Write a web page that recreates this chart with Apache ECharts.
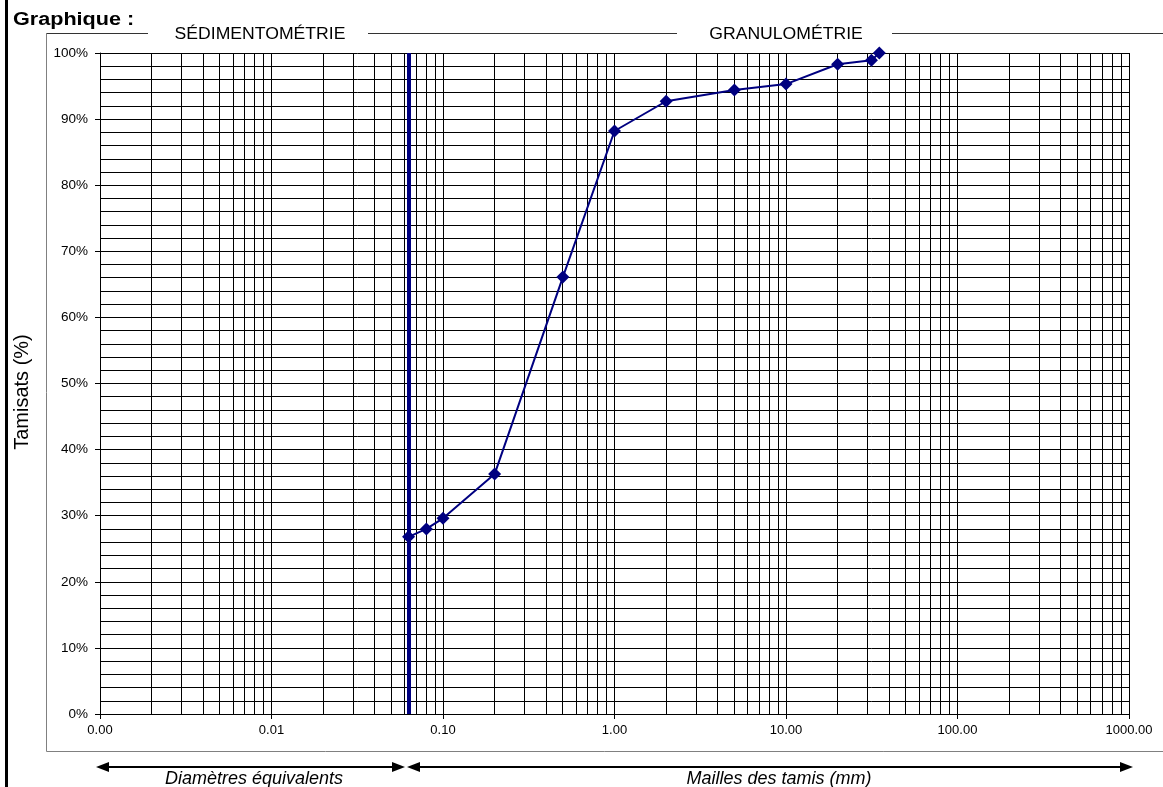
<!DOCTYPE html>
<html>
<head>
<meta charset="utf-8">
<script src="https://cdn.jsdelivr.net/npm/echarts@6/dist/echarts.min.js"></script>
<style>
  html, body { margin: 0; padding: 0; background: #fff; }
  #chart { width: 1163px; height: 787px; }
</style>
</head>
<body>
<div id="chart"></div>
<script>
// sieve sizes (mm) and percent passing
var sieveSizes = [0.063, 0.08, 0.1, 0.2, 0.5, 1, 2, 5, 10, 20, 31.5, 35];
var passing = [26.8, 28.0, 29.6, 36.3, 66.1, 88.2, 92.7, 94.4, 95.3, 98.3, 98.9, 100];
var separationSize = 0.063;
var decades = [0.001, 0.01, 0.1, 1, 10, 100];
var xMin = 0.001, xMax = 1000;
var yMin = 0, yMax = 100;

var FONT = "'Liberation Sans', Arial, sans-serif";
var NAVY = "#000080";

// vertical log grid lines 1..9 in every decade
var vLines = [];
decades.forEach(function (d) {
  for (var m = 1; m <= 9; m++) vLines.push(+(d * m).toPrecision(6));
});
vLines.push(xMax);

var chartDom = document.getElementById("chart");
var myChart = echarts.init(chartDom);

function arrowHead(tipX, y, dir) {
  // dir = -1 points left, 1 points right
  return {
    type: "polygon",
    shape: { points: [[tipX, y], [tipX - dir * 13, y - 5], [tipX - dir * 13, y + 5]] },
    style: { fill: "#000" }
  };
}

// draws a full-height vertical line at the data x value
function vLineRenderer(color, width) {
  return function (params, api) {
    var v = api.value(0);
    var top = api.coord([v, yMax]);
    var bottom = api.coord([v, yMin]);
    var x = width % 2 ? Math.round(top[0] - 0.5) + 0.5 : Math.round(top[0]);
    return {
      type: "line",
      shape: { x1: x, y1: top[1], x2: x, y2: bottom[1] },
      style: { stroke: color, lineWidth: width }
    };
  };
}

var arrowY = 767;

var option = {
  animation: false,
  textStyle: { fontFamily: FONT },
  grid: { left: 100, right: 34, top: 53, bottom: 73 },
  xAxis: {
    type: "log",
    logBase: 10,
    min: xMin,
    max: xMax,
    splitNumber: 6,
    axisLine: { show: true, lineStyle: { color: "#000", width: 1 } },
    axisTick: { show: true, length: 5, lineStyle: { color: "#000" } },
    axisLabel: {
      color: "#000",
      fontSize: 13,
      fontFamily: FONT,
      margin: 10,
      formatter: function (v) { return Number(v).toFixed(2); }
    },
    splitLine: { show: false }
  },
  yAxis: {
    type: "value",
    min: yMin,
    max: yMax,
    interval: 10,
    axisLine: { show: true, lineStyle: { color: "#000", width: 1 } },
    axisTick: { show: true, length: 5, lineStyle: { color: "#000" } },
    axisLabel: {
      color: "#000",
      fontSize: 13.5,
      fontFamily: FONT,
      margin: 12,
      formatter: "{value}%"
    },
    splitLine: { show: true, lineStyle: { color: "#000", width: 1 } },
    minorTick: { show: false, splitNumber: 5 },
    minorSplitLine: { show: true, lineStyle: { color: "#000", width: 1 } }
  },
  graphic: [
    { type: "rect", shape: { x: 5, y: 0, width: 3, height: 787 }, style: { fill: "#000" } },
    {
      type: "text", x: 13, y: 20, scaleX: 1.2,
      style: { text: "Graphique :", font: "bold 18px " + FONT, fill: "#000", textVerticalAlign: "middle" }
    },
    {
      type: "text", x: 22, y: 392, rotation: Math.PI / 2, scaleX: 1.0,
      style: { text: "Tamisats (%)", font: "20px " + FONT, fill: "#000", textAlign: "center", textVerticalAlign: "middle" }
    },
    // frame
    { type: "line", shape: { x1: 46.5, y1: 33.5, x2: 46.5, y2: 751.5 }, style: { stroke: "#808080", lineWidth: 1 } },
    { type: "line", shape: { x1: 46.5, y1: 751.5, x2: 1163, y2: 751.5 }, style: { stroke: "#808080", lineWidth: 1 } },
    { type: "line", shape: { x1: 46.5, y1: 33.5, x2: 148, y2: 33.5 }, style: { stroke: "#333", lineWidth: 1 } },
    { type: "line", shape: { x1: 368, y1: 33.5, x2: 677, y2: 33.5 }, style: { stroke: "#333", lineWidth: 1 } },
    { type: "line", shape: { x1: 892, y1: 33.5, x2: 1163, y2: 33.5 }, style: { stroke: "#333", lineWidth: 1 } },
    {
      type: "text", x: 260, y: 35, scaleX: 1.1,
      style: { text: "SÉDIMENTOMÉTRIE", font: "16px " + FONT, fill: "#000", textAlign: "center", textVerticalAlign: "middle" }
    },
    {
      type: "text", x: 786, y: 35, scaleX: 1.1,
      style: { text: "GRANULOMÉTRIE", font: "16px " + FONT, fill: "#000", textAlign: "center", textVerticalAlign: "middle" }
    },
    // arrows below the axis
    { type: "line", shape: { x1: 100, y1: arrowY, x2: 400, y2: arrowY }, style: { stroke: "#000", lineWidth: 2 } },
    arrowHead(96, arrowY, -1),
    arrowHead(405, arrowY, 1),
    { type: "line", shape: { x1: 412, y1: arrowY, x2: 1128, y2: arrowY }, style: { stroke: "#000", lineWidth: 2 } },
    arrowHead(407, arrowY, -1),
    arrowHead(1133, arrowY, 1),
    {
      type: "text", x: 254, y: 779,
      style: { text: "Diamètres équivalents", font: "italic 18px " + FONT, fill: "#000", textAlign: "center", textVerticalAlign: "middle" }
    },
    {
      type: "text", x: 779, y: 779,
      style: { text: "Mailles des tamis (mm)", font: "italic 18px " + FONT, fill: "#000", textAlign: "center", textVerticalAlign: "middle" }
    }
  ],
  series: [
    {
      name: "grid",
      type: "custom",
      silent: true,
      z: 1,
      renderItem: vLineRenderer("#000", 1),
      encode: { x: 0, y: 1 },
      data: vLines.map(function (v) { return [v, yMin]; })
    },
    {
      name: "separation",
      type: "custom",
      silent: true,
      z: 2,
      renderItem: vLineRenderer(NAVY, 4),
      encode: { x: 0, y: 1 },
      data: [[separationSize, yMin]]
    },
    {
      name: "Tamisats",
      type: "line",
      z: 3,
      symbol: "diamond",
      symbolSize: 13,
      lineStyle: { color: NAVY, width: 2 },
      itemStyle: { color: NAVY },
      data: sieveSizes.map(function (s, i) { return [s, passing[i]]; })
    }
  ]
};

myChart.setOption(option);
window.addEventListener("resize", myChart.resize);
</script>
</body>
</html>
